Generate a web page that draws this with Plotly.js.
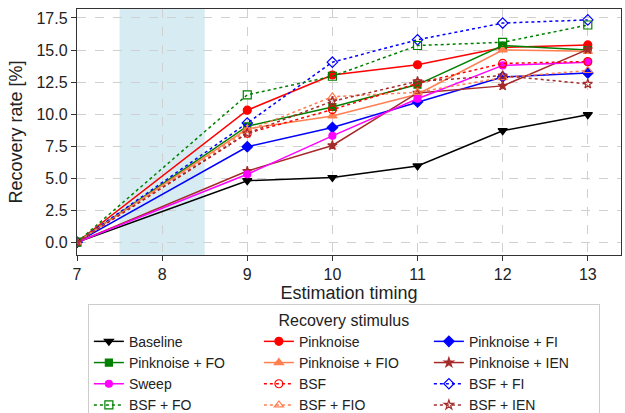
<!DOCTYPE html>
<html>
<head>
<meta charset="utf-8">
<script src="https://cdn.plot.ly/plotly-3.0.1.min.js"></script>
<style>html,body{margin:0;padding:0;background:#fff;overflow:hidden;}#wrap{width:625px;height:413px;overflow:hidden;}#chart{width:625px;height:430px;}</style>
</head>
<body>
<div id="wrap"><div id="chart"></div></div>
<script>
const timings = [7, 9, 10, 11, 12, 13];
const seriesNames = ["Baseline", "Pinknoise", "Pinknoise + FI", "Pinknoise + FO", "Pinknoise + FIO", "Pinknoise + IEN",
  "Sweep", "BSF", "BSF + FI", "BSF + FO", "BSF + FIO", "BSF + IEN"];
const baseline      = [0, 4.8, 5.05, 5.95, 8.7, 9.95];
const pinknoise     = [0, 10.3, 13.05, 13.85, 15.2, 15.4];
const pinknoiseFI   = [0, 7.45, 8.95, 10.95, 12.9, 13.2];
const pinknoiseFO   = [0, 9.05, 10.55, 12.3, 15.35, 15.0];
const pinknoiseFIO  = [0, 8.85, 9.85, 11.55, 15.0, 14.9];
const pinknoiseIEN  = [0, 5.55, 7.55, 11.65, 12.2, 15.05];
const sweep         = [0, 5.3, 8.3, 11.2, 13.8, 14.05];
const bsf           = [0, 8.5, 10.35, 12.4, 13.95, 14.1];
const bsfFI         = [0, 9.3, 14.05, 15.8, 17.1, 17.35];
const bsfFO         = [0, 11.5, 12.95, 15.35, 15.6, 16.95];
const bsfFIO        = [0, 8.7, 11.35, 11.7, 12.85, 13.4];
const bsfIEN        = [0, 8.5, 11.0, 12.55, 13.0, 12.35];
const shadeStart = 7.5, shadeEnd = 8.5;

const values = [baseline, pinknoise, pinknoiseFI, pinknoiseFO, pinknoiseFIO, pinknoiseIEN,
  sweep, bsf, bsfFI, bsfFO, bsfFIO, bsfIEN];
const colors = ["#000000", "#ff0000", "#0000ff", "#008000", "#ff7f50", "#a52a2a",
  "#ff00ff", "#ff0000", "#0000ff", "#008000", "#ff7f50", "#a52a2a"];
const symbols = ["triangle-down", "circle", "diamond", "square", "triangle-up", "star",
  "circle", "circle-open", "diamond-open", "square-open", "triangle-up-open", "star-open"];
const dashes = ["solid", "solid", "solid", "solid", "solid", "solid",
  "solid", "dot", "dot", "dot", "dot", "dot"];
const sizes = [8, 8, 8, 7, 8, 7, 7, 8, 8, 8, 8, 7];

const traces = seriesNames.map((n, i) => ({
  x: timings, y: values[i], name: n, type: "scatter", mode: "lines+markers",
  line: {color: colors[i], width: 1.5, dash: dashes[i]},
  marker: {color: colors[i], symbol: symbols[i], size: sizes[i], line: {color: colors[i], width: 1.2}}
}));

const axisCommon = {
  showline: true, linecolor: "#333", linewidth: 1.2, mirror: true,
  ticks: "outside", ticklen: 5, tickcolor: "#333", tickwidth: 1,
  showgrid: true, gridcolor: "#d0d0d0", griddash: "dash", gridwidth: 1,
  zeroline: false, tickfont: {size: 16, color: "#222"}
};

const layout = {
  width: 625, height: 430,
  margin: {l: 77, r: 4, t: 9, b: 175},
  font: {family: "Liberation Sans, Arial, sans-serif", color: "#222"},
  paper_bgcolor: "#fff", plot_bgcolor: "#fff",
  xaxis: Object.assign({}, axisCommon, {range: [7, 13.39], dtick: 1, tick0: 7,
    title: {text: "Estimation timing", font: {size: 18}, standoff: 0}}),
  yaxis: Object.assign({}, axisCommon, {range: [-1.0, 18.2], dtick: 2.5, tick0: 0, tickformat: ".1f",
    title: {text: "Recovery rate [%]", font: {size: 18}, standoff: 9}}),
  shapes: [{type: "rect", xref: "x", yref: "paper", x0: shadeStart, x1: shadeEnd, y0: 0, y1: 1,
    fillcolor: "rgba(173,216,230,0.5)", line: {width: 0}, layer: "below"}],
  legend: {
    orientation: "h", x: 0.02, xanchor: "left", y: -0.199, yanchor: "top",
    entrywidth: 125, entrywidthmode: "pixels",
    bgcolor: "#fff", bordercolor: "#cccccc", borderwidth: 1,
    font: {size: 14, color: "#222"},
    title: {text: "Recovery stimulus", side: "top center", font: {size: 16}},
    itemwidth: 30, tracegroupgap: 0
  },
  showlegend: true
};

Plotly.newPlot("chart", traces, layout, {displayModeBar: false, staticPlot: true});
</script>
</body>
</html>
